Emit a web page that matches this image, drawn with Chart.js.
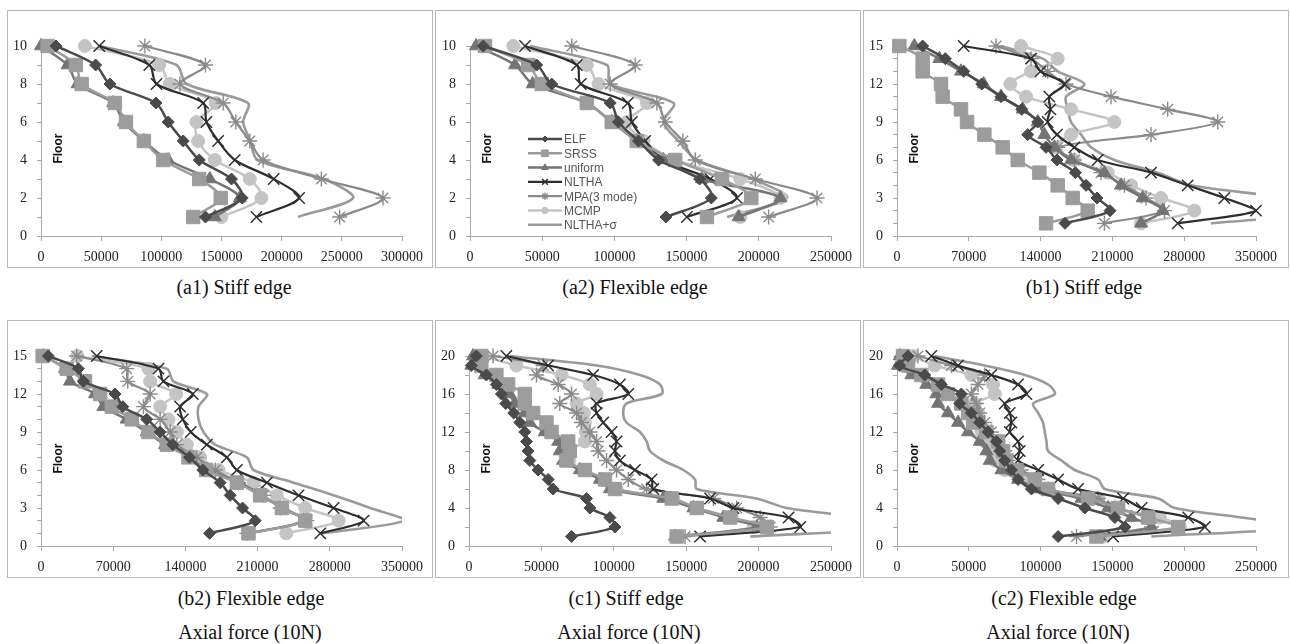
<!DOCTYPE html>
<html><head><meta charset="utf-8">
<script src="https://cdn.jsdelivr.net/npm/chart.js@4.4.1/dist/chart.umd.min.js"></script>
<style>
html,body{margin:0;padding:0;background:#fff;}
body{width:1290px;height:644px;position:relative;overflow:hidden;}
.box{position:absolute;border:1px solid #b8b8b8;box-sizing:border-box;}
canvas{position:absolute;}
.cap{position:absolute;font-family:"Liberation Serif","Times New Roman",serif;font-size:20px;line-height:24px;color:#111;white-space:nowrap;transform:translateX(-50%);}
</style></head><body>
<script>
// ---------- data (values per floor, floor 1 first) ----------
const floors10 = [1,2,3,4,5,6,7,8,9,10];
const floors15 = [1,2,3,4,5,6,7,8,9,10,11,12,13,14,15];
const floors20 = [1,2,3,4,5,6,7,8,9,10,11,12,13,14,15,16,17,18,19,20];
const seriesNames = ['ELF','SRSS','uniform','NLTHA','MPA(3 mode)','MCMP','NLTHA+σ'];

const a1_ELF     = [136700,167200,158300,131500,118200,105700,95500,57300,45400,12500];
const a1_SRSS    = [126500,149400,131500,101600,85500,70600,61400,33800,29000,5500];
const a1_uniform = [144500,165200,140300,105700,85500,68900,60000,30400,22100,0];
const a1_NLTHA   = [179000,214500,193400,161000,147200,137500,134800,96000,90000,48400];
const a1_MPA     = [248200,284200,233000,184600,173500,161900,151400,115400,136700,86300];
const a1_MCMP    = [150000,183200,173500,144500,130600,129200,145300,107100,98200,36500];
const a1_sigma   = [213600,259300,235000,180000,174000,168000,172000,121000,112600,49000];

const a2_ELF     = [135700,167100,159000,130600,116700,102800,97100,56600,46200,9200];
const a2_SRSS    = [164100,194800,174500,142100,115500,98200,80900,49700,40400,10400];
const a2_uniform = [186000,215000,160600,134000,115500,98200,80900,43400,31200,4200];
const a2_NLTHA   = [150200,184900,166400,134000,121300,112100,109300,76700,74000,38100];
const a2_MPA     = [206800,240300,197600,156000,147400,135200,129400,97100,114400,70500];
const a2_MCMP    = [187200,215000,187200,142100,120200,108600,122500,89000,80900,30000];
const a2_sigma   = [178000,219500,195300,157100,144400,134000,141000,97100,94800,41600];

const b1_ELF     = [163800,207700,195000,184300,173900,156000,145300,127400,137200,121600,101400,82600,65000,47100,25000];
const b1_SRSS    = [145300,185900,171300,156700,138800,117700,103000,85200,68300,62400,44500,42900,25000,25000,2300];
const b1_uniform = [237900,259000,239500,218400,202200,169700,153400,143700,137200,122500,101400,84500,62400,41300,16900];
const b1_NLTHA   = [273700,350000,319200,283400,247700,195700,172900,156000,146900,149500,148500,163200,140000,130700,65000];
const b1_MPA     = [202200,260700,242800,221700,198900,172900,156700,247700,312700,263900,208700,164800,146900,130700,96500];
const b1_MCMP    = [237900,289900,257400,228200,205400,172300,155000,169700,211900,169700,125800,110500,130700,156700,120900];
const b1_sigma   = [306000,430000,380000,286700,254200,211900,189200,179400,169700,166400,164800,182700,156700,142000,101400];

const b2_ELF     = [163400,207700,195400,183400,173700,156900,144000,127800,115500,102500,79300,71800,41100,36200,7100];
const b2_SRSS    = [201200,256200,233600,212500,189900,160100,143000,122000,104200,88000,68600,57300,42700,24900,1600];
const b2_uniform = [201200,254600,235200,212500,193100,160800,144600,120300,102500,83100,60500,52400,28100,23300,2300];
const b2_NLTHA   = [270800,312800,283700,249700,219000,189900,180200,160800,145200,137500,134900,147200,118700,113900,54000];
const b2_MPA     = [199600,257800,231900,215800,191500,168900,151100,131700,125200,115500,99300,105800,84100,83100,34600];
const b2_MCMP    = [237800,288600,256200,228700,206100,172100,154300,141400,131700,123600,115500,131000,105800,104200,35300];
const b2_sigma   = [272400,352000,319300,283700,244900,206100,199600,168900,157500,152700,152700,160800,128400,122000,49200];

const c1_ELF     = [70800,100800,97300,83500,81200,58100,54700,47700,42000,40800,39700,38500,35100,30900,25400,22400,18900,12000,1600,5100];
const c1_SRSS    = [143400,205700,180300,157300,140000,100800,93900,80000,67300,69600,68500,57000,53500,44300,38500,38500,27000,18900,8500,8500];
const c1_uniform = [142300,198800,175700,155000,134200,97300,90400,76600,65000,62700,61600,52300,42000,38500,31600,28100,20100,10800,1600,2800];
const c1_NLTHA   = [159600,228800,220700,182600,166500,127300,126100,114600,104200,100800,101900,98500,92700,88100,88100,110000,104200,85800,54700,25800];
const c1_MPA     = [149200,208000,201100,184900,168800,122700,110000,101900,95000,89200,88100,83500,77700,74300,62700,70800,61600,46600,51200,16600];
const c1_MCMP    = [143400,196500,181500,157300,141100,101900,92700,78900,69200,69600,80000,80700,80000,79300,74300,88100,83500,63900,32700,9700];
const c1_sigma   = [194200,300000,270000,219500,198800,157300,156100,148000,134200,125000,122700,118100,108800,106500,108800,133100,131900,118100,88100,28100];

const c2_ELF     = [112200,158700,151700,130800,112200,93600,84300,79700,75000,71500,69200,63400,57600,51800,43700,44800,30900,19300,1900,7700];
const c2_SRSS    = [138900,195800,174900,154000,133100,105200,95900,83200,76200,73900,70400,62300,53000,49500,44800,35500,28600,17000,7700,4200];
const c2_uniform = [141200,177200,163300,147000,128500,98300,84300,72700,64600,62300,57600,49500,42500,35500,28600,27400,20400,10000,700,1900];
const c2_NLTHA   = [150500,214400,202800,170300,157500,126100,112200,98300,84300,85500,84300,78500,79700,78500,75000,90100,84300,65700,42500,23900];
const c2_MPA     = [125000,177200,174900,151700,140100,105200,98300,86600,77400,75000,70400,65700,61100,57600,55300,51800,56400,61100,37900,14600];
const c2_MCMP    = [143600,197000,183100,150500,140100,101700,92500,75000,68100,64600,61100,58800,57600,56400,54100,68100,66900,51800,26200,11200];
const c2_sigma   = [177200,285000,240000,193500,181900,144700,140100,123800,114500,105200,104100,102900,101700,98300,94800,109900,105200,89000,61100,26200];

// ---------- styles ----------
const styles = [
  {color:'#4a4a4a', point:'rectRot',  r:6,   w:2.5, pb:1},
  {color:'#9c9c9c', point:'rect',     r:9.5, w:2.5, pb:1},
  {color:'#747474', point:'triangle', r:7.5, w:2.5, pb:1},
  {color:'#2e2e2e', point:'crossRot', r:8,   w:2.2, pb:1.5},
  {color:'#8a8a8a', point:'star',     r:7.5, w:2.2, pb:1.4},
  {color:'#c4c4c4', point:'circle',   r:6.5, w:2.5, pb:1},
  {color:'#9a9a9a', point:false,      r:0,   w:2.6, pb:0}
];

const panels = [
  {floors:floors10, series:[a1_ELF,a1_SRSS,a1_uniform,a1_NLTHA,a1_MPA,a1_MCMP,a1_sigma], xMax:300000, xStep:50000, yMax:10, yStep:1, yLab:2,
   box:[7,10,426,258], padL:34, padR:31, caps:[['(a1) Stiff edge',234,287]], legend:false},
  {floors:floors10, series:[a2_ELF,a2_SRSS,a2_uniform,a2_NLTHA,a2_MPA,a2_MCMP,a2_sigma], xMax:250000, xStep:50000, yMax:10, yStep:1, yLab:2,
   box:[435,10,426,258], padL:35, padR:30, caps:[['(a2) Flexible edge',635,287]], legend:true},
  {floors:floors15, series:[b1_ELF,b1_SRSS,b1_uniform,b1_NLTHA,b1_MPA,b1_MCMP,b1_sigma], xMax:350000, xStep:70000, yMax:15, yStep:1, yLab:3,
   box:[863,10,426,258], padL:34, padR:33, caps:[['(b1) Stiff edge',1084,287]], legend:false},
  {floors:floors15, series:[b2_ELF,b2_SRSS,b2_uniform,b2_NLTHA,b2_MPA,b2_MCMP,b2_sigma], xMax:350000, xStep:70000, yMax:15, yStep:1, yLab:3,
   box:[7,320,426,258], padL:34, padR:31, caps:[['(b2) Flexible edge',251,598],['Axial force (10N)',250,632]], legend:false},
  {floors:floors20, series:[c1_ELF,c1_SRSS,c1_uniform,c1_NLTHA,c1_MPA,c1_MCMP,c1_sigma], xMax:250000, xStep:50000, yMax:20, yStep:2, yLab:4,
   box:[435,320,426,258], padL:34, padR:30, caps:[['(c1) Stiff edge',626,598],['Axial force (10N)',629,632]], legend:false},
  {floors:floors20, series:[c2_ELF,c2_SRSS,c2_uniform,c2_NLTHA,c2_MPA,c2_MCMP,c2_sigma], xMax:250000, xStep:50000, yMax:20, yStep:2, yLab:4,
   box:[863,320,426,258], padL:34, padR:33, caps:[['(c2) Flexible edge',1064,598],['Axial force (10N)',1058,632]], legend:false}
];

// ---------- plugins ----------
const floorLabel = {
  id:'floorLabel',
  afterDatasetsDraw(chart){
    const {ctx, chartArea:a} = chart;
    ctx.save();
    ctx.translate(a.left + 18, a.top + 0.54*(a.bottom - a.top));
    ctx.rotate(-Math.PI/2);
    ctx.font = 'bold 12px "Liberation Sans", Arial, sans-serif';
    ctx.fillStyle = '#111';
    ctx.textAlign = 'center';
    ctx.textBaseline = 'middle';
    ctx.fillText('Floor', 0, 0);
    ctx.restore();
  }
};
const innerLegend = {
  id:'innerLegend',
  afterDraw(chart, args, opts){
    if (!opts || !opts.show) return;
    const {ctx, chartArea:a} = chart;
    ctx.save();
    chart.data.datasets.forEach((ds, i) => {
      const y = a.top + 93 + i*14.3;
      const x0 = a.left + 58;
      ctx.strokeStyle = ds.borderColor; ctx.lineWidth = ds.borderWidth;
      ctx.beginPath(); ctx.moveTo(x0, y); ctx.lineTo(x0 + 34, y); ctx.stroke();
      if (ds.pointStyle) {
        ctx.fillStyle = ds.pointBackgroundColor; ctx.strokeStyle = ds.pointBorderColor;
        ctx.lineWidth = ds.pointBorderWidth;
        Chart.helpers.drawPoint(ctx, {pointStyle: ds.pointStyle, radius: ds.pointRadius*0.5, rotation:0, borderWidth: ds.pointBorderWidth}, x0 + 17, y);
      }
      ctx.font = '12px "Liberation Sans", Arial, sans-serif';
      ctx.fillStyle = '#555';
      ctx.textAlign = 'left'; ctx.textBaseline = 'middle';
      ctx.fillText(ds.label, x0 + 36, y + 1);
    });
    ctx.restore();
  }
};

const tickFont = {family:'"Liberation Serif", "Times New Roman", serif', size:14};
const axisGray = '#a8a8a8';

panels.forEach(p => {
  const [bx, by, bw, bh] = p.box;
  const box = document.createElement('div');
  box.className = 'box';
  Object.assign(box.style, {left:bx+'px', top:by+'px', width:bw+'px', height:bh+'px'});
  document.body.appendChild(box);
  const cv = document.createElement('canvas');
  cv.width = bw; cv.height = bh;
  Object.assign(cv.style, {left:bx+'px', top:by+'px', width:bw+'px', height:bh+'px'});
  document.body.appendChild(cv);
  p.caps.forEach(([t, cx, cy]) => {
    const d = document.createElement('div');
    d.className = 'cap'; d.textContent = t;
    d.style.left = cx + 'px'; d.style.top = (cy - 12) + 'px';
    document.body.appendChild(d);
  });

  const datasets = p.series.map((vals, i) => {
    const s = styles[i];
    return {
      label: seriesNames[i],
      data: p.floors.map((f, k) => ({x: vals[k], y: f})),
      borderColor: s.color,
      backgroundColor: s.color,
      borderWidth: s.w,
      pointStyle: s.point,
      pointRadius: s.r,
      pointHoverRadius: s.r,
      pointBackgroundColor: s.color,
      pointBorderColor: s.color,
      pointBorderWidth: s.pb,
      tension: 0.3,
      fill: false,
      clip: s.point ? false : {left: 5, top: 10, right: 0, bottom: 10}
    };
  });

  new Chart(cv, {
    type: 'line',
    data: {datasets},
    options: {
      responsive: false, animation: false, devicePixelRatio: 1,
      layout: {padding: {left: 0, top: 36, right: p.padR, bottom: 0}},
      plugins: {legend: {display: false}, tooltip: {enabled: false}, innerLegend: {show: p.legend}},
      events: [],
      scales: {
        x: {
          type: 'linear', min: 0, max: p.xMax,
          ticks: {stepSize: p.xStep, autoSkip: false, maxRotation: 0, padding: 8, color: '#222', font: tickFont, callback: v => String(v)},
          grid: {drawOnChartArea: false, drawTicks: true, tickLength: 5, color: axisGray},
          border: {display: true, color: axisGray, width: 1},
          afterFit: s => { s.height = 32; }
        },
        y: {
          type: 'linear', min: 0, max: p.yMax,
          ticks: {stepSize: p.yStep, autoSkip: false, padding: 10, color: '#222', font: tickFont, callback: v => (v % p.yLab === 0 ? String(v) : '')},
          grid: {drawOnChartArea: false, drawTicks: true, tickLength: 4, color: axisGray},
          border: {display: true, color: axisGray, width: 1},
          afterFit: s => { s.width = p.padL; }
        }
      }
    },
    plugins: [floorLabel, innerLegend]
  });
});
</script>
</body></html>
